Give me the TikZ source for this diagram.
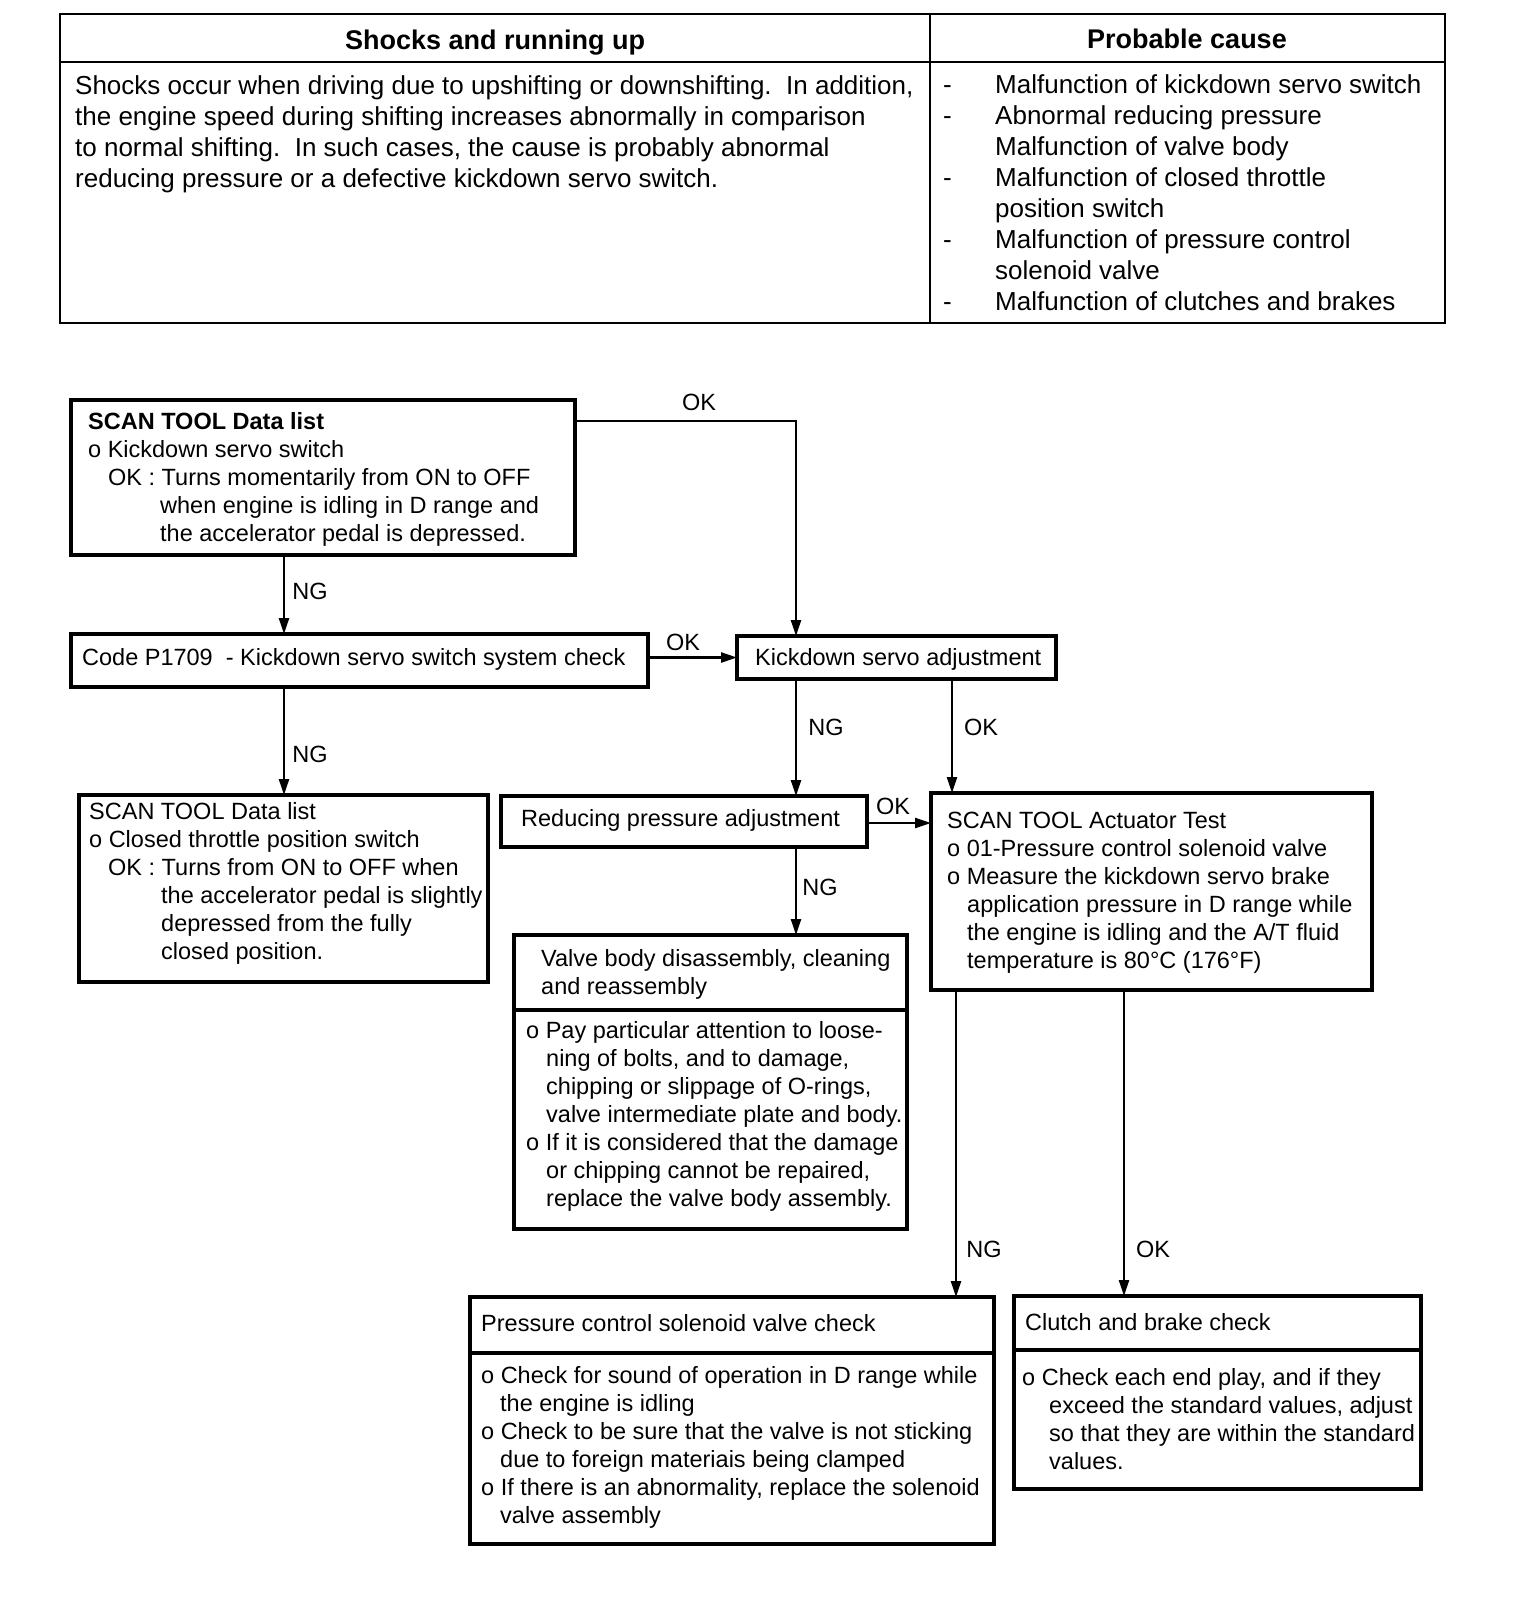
\documentclass[tikz,border=0pt]{standalone}
\usepackage{fontspec}
\setmainfont{Liberation Sans}
\usetikzlibrary{arrows.meta}
\begin{document}
\begin{tikzpicture}[x=1pt,y=-1pt,
  box/.style={draw, line width=3.2pt, rectangle, inner sep=0pt, outer sep=0pt, anchor=north west},
  tbl/.style={draw, line width=2.2pt, rectangle, inner sep=0pt, outer sep=0pt, anchor=north west},
  rule/.style={line width=3.2pt},
  trule/.style={line width=2.2pt},
  ftxt/.style={anchor=north west, inner sep=0pt, align=left, font=\fontsize{23.5}{28}\selectfont},
  ttxt/.style={anchor=north west, inner sep=0pt, align=left, font=\fontsize{26}{31}\selectfont},
  thead/.style={anchor=base, inner sep=0pt, font=\fontsize{27}{31}\selectfont\bfseries},
  conn/.style={line width=2.4pt, -{Triangle[length=16pt,width=10pt]}},
  lbl/.style={inner sep=0pt, font=\fontsize{23.5}{28}\selectfont},
]
\useasboundingbox (0,0) rectangle (1536,1618);
\fill[white] (0,0) rectangle (1536,1618);

% ---------- table ----------
\node[tbl, minimum width=1385pt, minimum height=309pt] (T) at (60,14) {};
\draw[trule] ([yshift=-48pt]T.north west) -- ([yshift=-48pt]T.north east);
\draw[trule] ([xshift=870pt]T.north west) -- ([xshift=870pt]T.south west);
\node[thead] (h1) at (495,49) {Shocks and running up};
\node[thead] (h2) at (1187,48) {Probable cause};
\node[ttxt] (tl) at (75,72.6) {\strut Shocks occur when driving due to upshifting or downshifting.\ \ In addition,\\
the engine speed during shifting increases abnormally in comparison\\
to normal shifting.\ \ In such cases, the cause is probably abnormal\\
reducing pressure or a defective kickdown servo switch.};
\node[ttxt] (td) at (943,71.6) {\strut -\\-\\\mbox{}\\-\\\mbox{}\\-\\\mbox{}\\-};
\node[ttxt] (tr) at (995,71.6) {\strut Malfunction of kickdown servo switch\\
Abnormal reducing pressure\\
Malfunction of valve body\\
Malfunction of closed throttle\\
position switch\\
Malfunction of pressure control\\
solenoid valve\\
Malfunction of clutches and brakes};

% ---------- flowchart boxes ----------
\node[box, minimum width=504pt, minimum height=155pt] (A) at (71,400) {};
\node[ftxt] (At) at (88,409.8) {\strut\textbf{SCAN TOOL Data list}\\
o Kickdown servo switch\\
\hspace*{20pt}OK : Turns momentarily from ON to OFF\\
\hspace*{72pt}when engine is idling in D range and\\
\hspace*{72pt}the accelerator pedal is depressed.};

\node[box, minimum width=577pt, minimum height=53pt] (B) at (71,634) {};
\node[ftxt] (Bt) at (82,645.8) {\strut Code P1709\ \ - Kickdown servo switch system check};

\node[box, minimum width=319pt, minimum height=43pt] (C) at (737,636) {};
\node[ftxt] (Ct) at (755,645.8) {\strut Kickdown servo adjustment};

\node[box, minimum width=409pt, minimum height=187pt] (D) at (79,795) {};
\node[ftxt] (Dt) at (89,799.8) {\strut SCAN TOOL Data list\\
o Closed throttle position switch\\
\hspace*{19pt}OK : Turns from ON to OFF when\\
\hspace*{72pt}the accelerator pedal is slightly\\
\hspace*{72pt}depressed from the fully\\
\hspace*{72pt}closed position.};

\node[box, minimum width=366pt, minimum height=51pt] (E) at (501,796) {};
\node[ftxt] (Et) at (521,806.8) {\strut Reducing pressure adjustment};

\node[box, minimum width=441pt, minimum height=197pt] (F) at (931,793) {};
\node[ftxt] (Ft) at (947,808.8) {\strut SCAN TOOL Actuator Test\\
o 01-Pressure control solenoid valve\\
o Measure the kickdown servo brake\\
\hspace*{20pt}application pressure in D range while\\
\hspace*{20pt}the engine is idling and the A/T fluid\\
\hspace*{20pt}temperature is 80°C (176°F)};

\node[box, minimum width=393pt, minimum height=294pt] (G) at (514,935) {};
\draw[rule] ([yshift=-75pt]G.north west) -- ([yshift=-75pt]G.north east);
\node[ftxt] (Gh) at (541,946.8) {\strut Valve body disassembly, cleaning\\and reassembly};
\node[ftxt] (Gt) at (526,1018.8) {\strut o Pay particular attention to loose-\\
\hspace*{20pt}ning of bolts, and to damage,\\
\hspace*{20pt}chipping or slippage of O-rings,\\
\hspace*{20pt}valve intermediate plate and body.\\
o If it is considered that the damage\\
\hspace*{20pt}or chipping cannot be repaired,\\
\hspace*{20pt}replace the valve body assembly.};

\node[box, minimum width=524pt, minimum height=247pt] (H) at (470,1297) {};
\draw[rule] ([yshift=-56pt]H.north west) -- ([yshift=-56pt]H.north east);
\node[ftxt] (Hh) at (481,1311.8) {\strut Pressure control solenoid valve check};
\node[ftxt] (Ht) at (481,1363.8) {\strut o Check for sound of operation in D range while\\
\hspace*{19pt}the engine is idling\\
o Check to be sure that the valve is not sticking\\
\hspace*{19pt}due to foreign materiais being clamped\\
o If there is an abnormality, replace the solenoid\\
\hspace*{19pt}valve assembly};

\node[box, minimum width=407pt, minimum height=193pt] (I) at (1014,1296) {};
\draw[rule] ([yshift=-54pt]I.north west) -- ([yshift=-54pt]I.north east);
\node[ftxt] (Ih) at (1025,1310.8) {\strut Clutch and brake check};
\node[ftxt] (It) at (1022,1365.8) {\strut o Check each end play, and if they\\
\hspace*{27pt}exceed the standard values, adjust\\
\hspace*{27pt}so that they are within the standard\\
\hspace*{27pt}values.};

% ---------- connectors ----------
\coordinate (c1) at (284,0);
\coordinate (c2) at (796,0);
\coordinate (c3) at (952,0);
\coordinate (c4) at (956,0);
\coordinate (c5) at (1124,0);

\draw[conn] (A.south -| c1) -- (B.north -| c1);
\draw[conn] ([yshift=-21pt]A.north east) -| (C.north -| c2);
\draw[conn] (B.east |- C.west) -- (C.west);
\draw[conn] (B.south -| c1) -- (D.north -| c1);
\draw[conn] (C.south -| c2) -- (E.north -| c2);
\draw[conn] (C.south -| c3) -- (F.north -| c3);
\draw[conn] ([yshift=-27pt]E.north east) -- ([yshift=-27pt]E.north east -| F.west);
\draw[conn] (E.south -| c2) -- (G.north -| c2);
\draw[conn] (F.south -| c4) -- (H.north -| c4);
\draw[conn] (F.south -| c5) -- (I.north -| c5);

% ---------- labels ----------
\node[lbl] (l1) at (699,402) {OK};
\node[lbl] (l2) at (310,591) {NG};
\node[lbl] (l3) at (683,642) {OK};
\node[lbl] (l4) at (310,754) {NG};
\node[lbl] (l5) at (826,727) {NG};
\node[lbl] (l6) at (981,727) {OK};
\node[lbl] (l7) at (893,806) {OK};
\node[lbl] (l8) at (820,887) {NG};
\node[lbl] (l9) at (984,1249) {NG};
\node[lbl] (l10) at (1153,1249) {OK};
\end{tikzpicture}
\end{document}
